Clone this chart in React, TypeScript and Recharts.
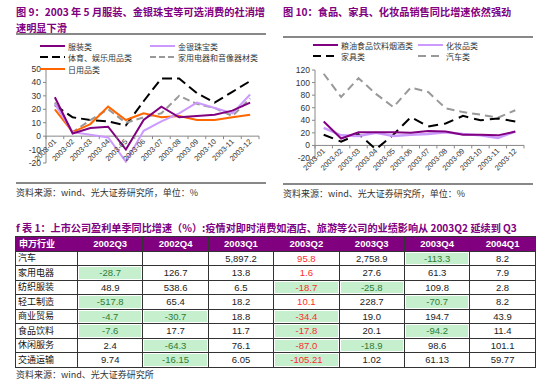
import React from 'react';
import { LineChart, Line, XAxis, YAxis, ReferenceLine } from 'recharts';

const months = [
  '2003-01', '2003-02', '2003-03', '2003-04', '2003-05', '2003-06',
  '2003-07', '2003-08', '2003-09', '2003-10', '2003-11', '2003-12',
];

// 图 9
const apparel = [29, 2, 6, 7, -10, 12, 22, 14, 15, 16, 19, 25];
const jewelry = [24, 3, 1, -1, -19, 4, 11, 17, 25, 21, 17, 31];
const sports = [23, 14, 12, 11, 8, 26, 43, 43, 32, 25, 33, 41];
const appliances = [25, 3, 12, 20, 10, 14, 17, 30, 24, 21, 15, 28];
const daily = [20, 3, 9, 22, 12, 17, 14, 15, 12, 12, 14, 16];
const ticks9 = [-20, -10, 0, 10, 20, 30, 40, 50];

// 图 10
const food = [38, 11, 21, 21, 21, 20, 23, 22, 17, 17, 16, 22];
const cosmetics = [28, 16, 15, 20, 15, 17, 18, 21, 18, 16, 12, 22];
const furniture = [17, 6, 18, -6, 17, 45, 30, 35, 47, 40, 43, 38];
const autos = [114, 77, 107, 82, 61, 92, 85, 59, 53, 49, 44, 56];
const ticks10 = [-20, 0, 20, 40, 60, 80, 100, 120];

// 表 1
const tableHeader = ['申万行业', '2002Q3', '2002Q4', '2003Q1', '2003Q2', '2003Q3', '2003Q4', '2004Q1'];
const industries = ['汽车', '家用电器', '纺织服装', '轻工制造', '商业贸易', '食品饮料', '休闲服务', '交通运输'];
const growth = [
  ['', '', '5,897.2', '95.8', '2,758.9', '-113.3', '8.2'],
  ['-28.7', '126.7', '13.8', '1.6', '27.6', '61.3', '7.9'],
  ['48.9', '538.6', '6.5', '-18.7', '-25.8', '109.8', '2.8'],
  ['-517.8', '65.4', '18.2', '10.1', '228.7', '-70.7', '8.2'],
  ['-4.7', '-30.7', '18.8', '-34.4', '19.0', '194.7', '43.9'],
  ['-7.6', '17.7', '11.7', '-17.8', '20.1', '-94.2', '11.4'],
  ['2.4', '-64.3', '76.1', '-87.0', '-18.9', '98.6', '101.1'],
  ['9.74', '-16.15', '6.05', '-105.21', '1.02', '61.13', '59.77'],
];

const PURPLE = '#800080';
const CJK = '"Noto Sans CJK SC", sans-serif';
const SANS = '"Liberation Sans", Arial, sans-serif';

const data9 = months.map((m, i) => ({
  month: m, apparel: apparel[i], jewelry: jewelry[i], sports: sports[i],
  appliances: appliances[i], daily: daily[i],
}));
const data10 = months.map((m, i) => ({
  month: m, food: food[i], cosmetics: cosmetics[i], furniture: furniture[i], autos: autos[i],
}));

const CH = 140;
const AXIS_H = 17;

// x labels sit on the zero line, not at the bottom of the plot
function makeTick(plotW: number, plotH: number, min: number, max: number) {
  const shift = (plotH * (0 - min)) / (max - min);
  const band = plotW / months.length;
  return (props: any) => {
    const { x, y, payload, index } = props;
    const y0 = y - shift;
    return (
      <g>
        <line x1={x - band / 2} y1={y0} x2={x - band / 2} y2={y0 + 3} stroke="#888" />
        {index === months.length - 1 && (
          <line x1={x + band / 2} y1={y0} x2={x + band / 2} y2={y0 + 3} stroke="#888" />
        )}
        <text
          x={x + 2}
          y={y0 + 6}
          transform={`rotate(-45, ${x + 2}, ${y0 + 6})`}
          textAnchor="end"
          fontSize={7.5}
          fontFamily={SANS}
          fill="#333"
        >
          {payload.value}
        </text>
      </g>
    );
  };
}

type LegendItem = { label: string; color: string; dash?: string; width?: number; x: number; y: number };

const Legend = ({ items }: { items: LegendItem[] }) => (
  <>
    {items.map((it) => (
      <div
        key={it.label}
        style={{ position: 'absolute', left: it.x, top: it.y - 6, height: 12, display: 'flex', alignItems: 'center' }}
      >
        <svg width={25} height={12}>
          <line x1={0} y1={6} x2={25} y2={6} stroke={it.color} strokeWidth={it.width ?? 2} strokeDasharray={it.dash} />
        </svg>
        <span style={{ marginLeft: 3, fontSize: 8, fontFamily: CJK, color: '#333', whiteSpace: 'nowrap' }}>{it.label}</span>
      </div>
    ))}
  </>
);

const Title = ({ x, y, lines, w }: { x: number; y: number; lines: string[]; w: number }) => (
  <div style={{ position: 'absolute', left: x, top: y, width: w, fontFamily: CJK, fontWeight: 700, fontSize: 10.2, color: PURPLE, lineHeight: '16px', whiteSpace: 'nowrap' }}>
    {lines.map((l) => (
      <div key={l}>{l}</div>
    ))}
  </div>
);

const Rule = ({ x, y, w }: { x: number; y: number; w: number }) => (
  <div style={{ position: 'absolute', left: x, top: y, width: w, height: 2, background: '#888' }} />
);

const Source = ({ x, y, text }: { x: number; y: number; text: string }) => (
  <div style={{ position: 'absolute', left: x, top: y, fontFamily: CJK, fontSize: 9, color: '#333', whiteSpace: 'nowrap' }}>{text}</div>
);

const Chart9 = () => {
  const W = 275, mt = 29, mr = 16, yw = 46;
  const plotW = W - mr - yw;
  const plotH = CH - mt - AXIS_H;
  const band = plotW / months.length;
  return (
    <LineChart width={W} height={CH} data={data9} margin={{ top: mt, right: mr, bottom: 0, left: 0 }}>
      <XAxis dataKey="month" height={AXIS_H} axisLine={false} tickLine={false} tickSize={0} tickMargin={0} interval={0}
        padding={{ left: band / 2, right: band / 2 }}
        tick={makeTick(plotW, plotH, -20, 50)} />
      <YAxis width={yw} domain={[-20, 50]} ticks={ticks9} interval={0} axisLine={{ stroke: '#888' }} tickLine={{ stroke: '#888' }}
        tickSize={3} tick={{ fontSize: 8.5, fill: '#333', fontFamily: SANS }} />
      <ReferenceLine y={0} stroke="#888" />
      <Line dataKey="sports" stroke="#000" strokeWidth={2} strokeDasharray="10 5" dot={false} isAnimationActive={false} />
      <Line dataKey="appliances" stroke="#999" strokeWidth={2} strokeDasharray="7 4" dot={false} isAnimationActive={false} />
      <Line dataKey="daily" stroke="#FF6600" strokeWidth={2} dot={false} isAnimationActive={false} />
      <Line dataKey="jewelry" stroke="#CC99FF" strokeWidth={2} dot={false} isAnimationActive={false} />
      <Line dataKey="apparel" stroke={PURPLE} strokeWidth={2} dot={false} isAnimationActive={false} />
    </LineChart>
  );
};

const Chart10 = () => {
  const W = 275, mt = 30, mr = 26, yw = 40;
  const plotW = W - mr - yw;
  const plotH = CH - mt - AXIS_H - 5;
  const band = plotW / months.length;
  return (
    <LineChart width={W} height={CH} data={data10} margin={{ top: mt, right: mr, bottom: 5, left: 0 }}>
      <XAxis dataKey="month" height={AXIS_H} axisLine={false} tickLine={false} tickSize={0} tickMargin={0} interval={0}
        padding={{ left: band / 2, right: band / 2 }}
        tick={makeTick(plotW, plotH, -20, 120)} />
      <YAxis width={yw} domain={[-20, 120]} ticks={ticks10} interval={0} axisLine={{ stroke: '#888' }} tickLine={{ stroke: '#888' }}
        tickSize={3} tick={{ fontSize: 8.5, fill: '#333', fontFamily: SANS }} />
      <ReferenceLine y={0} stroke="#888" />
      <Line dataKey="autos" stroke="#999" strokeWidth={2} strokeDasharray="8 5" dot={false} isAnimationActive={false} />
      <Line dataKey="furniture" stroke="#000" strokeWidth={2} strokeDasharray="10 6" dot={false} isAnimationActive={false} />
      <Line dataKey="cosmetics" stroke="#CC99FF" strokeWidth={2.5} dot={false} isAnimationActive={false} />
      <Line dataKey="food" stroke={PURPLE} strokeWidth={2} dot={false} isAnimationActive={false} />
    </LineChart>
  );
};

const cellBorder = '1px solid #333';

const GrowthTable = () => (
  <table style={{ position: 'absolute', left: 15, top: 236, width: 520, borderCollapse: 'collapse', tableLayout: 'fixed' }}>
    <colgroup>
      <col style={{ width: 62 }} />
      {tableHeader.slice(1).map((h) => (
        <col key={h} style={{ width: 65.4 }} />
      ))}
    </colgroup>
    <thead>
      <tr>
        {tableHeader.map((h, i) => (
          <th key={h} style={{
            background: PURPLE, color: '#fff', border: cellBorder, padding: 0, height: 13.5,
            fontSize: i === 0 ? 9 : 9.5, fontFamily: i === 0 ? CJK : SANS, fontWeight: 700,
            textAlign: i === 0 ? 'left' : 'center', paddingLeft: i === 0 ? 3 : 0, lineHeight: '12px',
          }}>{h}</th>
        ))}
      </tr>
    </thead>
    <tbody>
      {industries.map((name, r) => (
        <tr key={name}>
          <td style={{ border: cellBorder, padding: '0 0 0 2px', height: 13.5, fontSize: 9, fontFamily: CJK, color: '#111', lineHeight: '12px' }}>{name}</td>
          {growth[r].map((v, c) => {
            const neg = v.startsWith('-');
            const q2 = c === 3;
            return (
              <td key={c} style={{ border: cellBorder, padding: '1px', height: 11.5, lineHeight: '11px' }}>
                <div style={{
                  background: neg ? '#C6EFCE' : 'transparent', textAlign: 'center',
                  color: q2 ? '#FF2A2A' : neg ? '#2E7D32' : '#222', fontSize: 9.5, fontFamily: SANS,
                  height: 11.5, lineHeight: '11.5px',
                }}>{v}</div>
              </td>
            );
          })}
        </tr>
      ))}
    </tbody>
  </table>
);

export default function App() {
  return (
    <div style={{ position: 'fixed', left: 0, top: 0, width: 550, height: 384, background: '#fff', overflow: 'hidden' }}>
      <Title x={16} y={4} w={260} lines={['图 9：2003 年 5 月服装、金银珠宝等可选消费的社消增', '速明显下滑']} />
      <Rule x={16} y={33} w={250} />
      <Title x={283} y={4} w={260} lines={['图 10：食品、家具、化妆品销售同比增速依然强劲']} />
      <Rule x={283} y={36} w={250} />

      <div style={{ position: 'absolute', left: 0, top: 40 }}>
        <Chart9 />
      </div>
      <Legend items={[
        { label: '服装类', color: PURPLE, x: 40, y: 46 },
        { label: '金银珠宝类', color: '#CC99FF', x: 150, y: 46 },
        { label: '体育、娱乐用品类', color: '#000', dash: '8 4', x: 40, y: 57 },
        { label: '家用电器和音像器材类', color: '#999', dash: '6 3', x: 150, y: 57 },
        { label: '日用品类', color: '#FF6600', x: 40, y: 69 },
      ]} />

      <div style={{ position: 'absolute', left: 275, top: 40 }}>
        <Chart10 />
      </div>
      <Legend items={[
        { label: '粮油食品饮料烟酒类', color: PURPLE, x: 313, y: 45 },
        { label: '化妆品类', color: '#CC99FF', x: 418, y: 45 },
        { label: '家具类', color: '#000', dash: '8 5', x: 313, y: 56 },
        { label: '汽车类', color: '#999', dash: '8 5', x: 418, y: 56 },
      ]} />

      <Rule x={16} y={182} w={250} />
      <Source x={16} y={186} text="资料来源：wind、光大证券研究所，单位：%" />
      <Rule x={283} y={183} w={250} />
      <Source x={283} y={187} text="资料来源：wind、光大证券研究所，单位：%" />

      <div style={{ position: 'absolute', left: 16, top: 220, fontFamily: CJK, fontWeight: 700, fontSize: 10.15, color: PURPLE, whiteSpace: 'nowrap' }}>
        f 表 1：上市公司盈利单季同比增速（%）:疫情对即时消费如酒店、旅游等公司的业绩影响从 2003Q2 延续到 Q3
      </div>
      <GrowthTable />
      <Source x={16} y={368} text="资料来源：wind、光大证券研究所" />
    </div>
  );
}
